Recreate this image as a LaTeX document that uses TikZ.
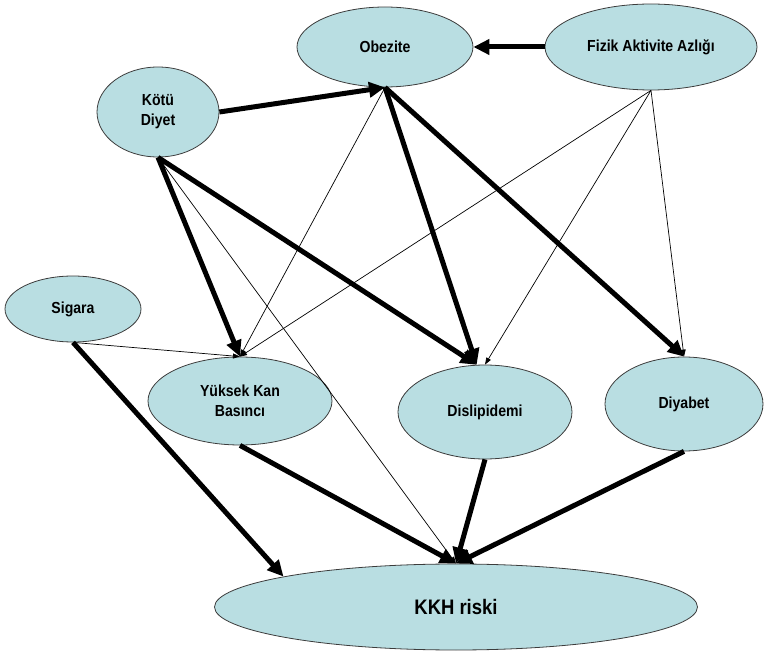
\documentclass[tikz,border=0pt]{standalone}
\usepackage{fontspec}
\setmainfont{Liberation Sans}[FakeStretch=0.88]
\usetikzlibrary{shapes.geometric,arrows.meta}
\definecolor{nodefill}{RGB}{185,222,226}
\definecolor{nodeline}{RGB}{60,60,60}
\begin{document}
\begin{tikzpicture}[x=1pt,y=-1pt,
  blob/.style={ellipse,draw=nodeline,line width=0.8pt,fill=nodefill,inner sep=0pt,
    font=\bfseries\fontsize{16}{20}\selectfont,align=center},
  strong/.style={line width=5pt,-{Triangle[length=16pt,width=15pt]}},
  weak/.style={line width=0.7pt,-{Triangle[length=7pt,width=5pt]}}]
\useasboundingbox (0,0) rectangle (764,652);
\node[blob,minimum width=176pt,minimum height=80pt] (obez) at (385,47) {Obezite};
\node[blob,minimum width=212pt,minimum height=86pt] (fiz) at (651,47) {Fizik Aktivite Azlığı};
\node[blob,minimum width=122pt,minimum height=90pt] (kot) at (158,112) {Kötü\\Diyet};
\node[blob,minimum width=136pt,minimum height=66pt] (sig) at (73,309) {Sigara};
\node[blob,minimum width=184pt,minimum height=88pt] (ykb) at (240,401) {Yüksek Kan\\Basıncı};
\node[blob,minimum width=174pt,minimum height=94pt] (dis) at (485,412) {Dislipidemi};
\node[blob,minimum width=158pt,minimum height=94pt] (diy) at (684,404) {Diyabet};
\node[blob,minimum width=483pt,minimum height=86pt,font=\bfseries\fontsize{21}{25}\selectfont] (kkh) at (456,607) {KKH riski};
% thin connectors
\draw[weak] (obez.south) -- (ykb.north);
\draw[weak] (fiz.south) -- (ykb.north);
\draw[weak] (fiz.south) -- (dis.north);
\draw[weak] (fiz.south) -- (diy.north);
\draw[weak] (sig.south) -- (ykb.north);
\draw[weak] (kot.south) -- (kkh.north);
% thick connectors
\draw[strong] (fiz.west) -- (obez.east);
\draw[strong] (kot.east) -- (obez.south);
\draw[strong] (obez.south) -- (dis.100);
\draw[strong] (obez.south) -- (diy.north);
\draw[strong] (kot.south) -- (ykb.north);
\draw[strong] (kot.south) -- (dis.100);
\draw[strong] (sig.south) -- (kkh.170);
\draw[strong] (ykb.south) -- (kkh.north);
\draw[strong] (dis.south) -- (kkh.north);
\draw[strong] (diy.south) -- (kkh.north);
\end{tikzpicture}
\end{document}
